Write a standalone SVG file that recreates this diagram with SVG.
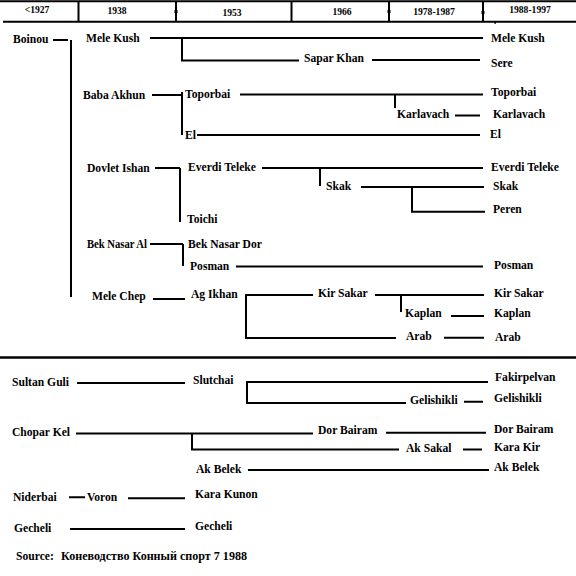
<svg xmlns="http://www.w3.org/2000/svg" width="576" height="576" viewBox="0 0 576 576">
<style>
.t{font-family:"Liberation Serif","Times New Roman",serif;font-weight:bold;font-size:11.6px;fill:#000}
.h{font-family:"Liberation Serif","Times New Roman",serif;font-weight:bold;font-size:9.6px;fill:#000;text-anchor:middle}
.s{font-family:"Liberation Serif","Times New Roman",serif;font-weight:bold;font-size:11.6px;fill:#000}
.c{fill:none;stroke:#000;stroke-width:2}
</style>
<rect width="576" height="576" fill="#fff"/>
<g id="header">
<path class="c" d="M0,1.2H576M3,21.7H576M78.5,1V22M176,1V22M291.5,1V22M389,1V22M483,1V22"/>
<rect x="174.5" y="10" width="3" height="3" fill="#000"/>
<rect x="387.5" y="10" width="3" height="3" fill="#000"/>
<rect x="481.5" y="11" width="3" height="3" fill="#000"/>
<rect x="494.5" y="22" width="1.2" height="2" fill="#000"/>
<text class="h" x="37" y="13">&lt;1927</text>
<text class="h" x="117" y="13.5">1938</text>
<text class="h" x="232" y="15.5">1953</text>
<text class="h" x="342" y="15">1966</text>
<text class="h" x="434" y="15">1978-1987</text>
<text class="h" x="530" y="13.3">1988-1997</text>
</g>
<g id="connectors">
<path class="c" d="M53,40H68M71,40V297"/>
<path class="c" d="M150,38H483M182,38V60.5H299M372,60H480"/>
<path class="c" d="M152,95H183M182,92V135M240,94.5H483M395,94.5V108M455,115.5H480M197,135H480"/>
<path class="c" d="M155,168H180M180,168V222M262,168H483M320,168V186M361,187H484M412,187V211.7H485"/>
<path class="c" d="M150,244H183M183,244V266M236,266.5H483"/>
<path class="c" d="M153,299H185M313,295H246V338H396M375,295H484M401,295V312M451,316H484M444,337.7H484"/>
<path d="M0,357.5H576" fill="none" stroke="#000" stroke-width="2.5"/>
<path class="c" d="M77,383H185M488,382H247V403H406M464,401.7H483"/>
<path class="c" d="M76,433.5H313M192,433.5V449.5H399M386,432.7H486M463,449.5H482M248,470H489"/>
<path class="c" d="M69,497.3H85M128,498.3H185M70,529H185"/>
</g>
<g id="n-boinou"><text class="t" x="13" y="43">Boinou</text></g>
<g id="n-mele-kush"><text class="t" x="86" y="42">Mele Kush</text></g>
<g id="n-sapar-khan"><text class="t" x="304" y="62">Sapar Khan</text></g>
<g id="n-mele-kush-r"><text class="t" x="491" y="42">Mele Kush</text></g>
<g id="n-sere"><text class="t" x="491" y="67">Sere</text></g>
<g id="n-baba-akhun"><text class="t" x="83" y="99">Baba Akhun</text></g>
<g id="n-toporbai"><text class="t" x="185" y="98">Toporbai</text></g>
<g id="n-toporbai-r"><text class="t" x="491" y="96">Toporbai</text></g>
<g id="n-karlavach"><text class="t" x="397" y="118">Karlavach</text></g>
<g id="n-karlavach-r"><text class="t" x="493" y="117.5">Karlavach</text></g>
<g id="n-el"><text class="t" x="185" y="139">El</text></g>
<g id="n-el-r"><text class="t" x="490" y="137.5">El</text></g>
<g id="n-dovlet-ishan"><text class="t" x="87" y="171.5">Dovlet Ishan</text></g>
<g id="n-everdi-teleke"><text class="t" x="188" y="171">Everdi Teleke</text></g>
<g id="n-everdi-teleke-r"><text class="t" x="491" y="171">Everdi Teleke</text></g>
<g id="n-skak"><text class="t" x="326" y="190">Skak</text></g>
<g id="n-skak-r"><text class="t" x="493" y="189.5">Skak</text></g>
<g id="n-peren"><text class="t" x="493" y="213">Peren</text></g>
<g id="n-toichi"><text class="t" x="187" y="223">Toichi</text></g>
<g id="n-bek-nasar-al"><text class="t" x="87" y="248" textLength="60" lengthAdjust="spacingAndGlyphs">Bek Nasar Al</text></g>
<g id="n-bek-nasar-dor"><text class="t" x="188" y="247.5">Bek Nasar Dor</text></g>
<g id="n-posman"><text class="t" x="190" y="270">Posman</text></g>
<g id="n-posman-r"><text class="t" x="494" y="269">Posman</text></g>
<g id="n-mele-chep"><text class="t" x="92" y="300">Mele Chep</text></g>
<g id="n-ag-ikhan"><text class="t" x="191" y="298">Ag Ikhan</text></g>
<g id="n-kir-sakar"><text class="t" x="318" y="297">Kir Sakar</text></g>
<g id="n-kir-sakar-r"><text class="t" x="494" y="297">Kir Sakar</text></g>
<g id="n-kaplan"><text class="t" x="405" y="317">Kaplan</text></g>
<g id="n-kaplan-r"><text class="t" x="494" y="316.7">Kaplan</text></g>
<g id="n-arab"><text class="t" x="406" y="340">Arab</text></g>
<g id="n-arab-r"><text class="t" x="495" y="340.7">Arab</text></g>
<g id="n-sultan-guli"><text class="t" x="12" y="385.7">Sultan Guli</text></g>
<g id="n-slutchai"><text class="t" x="193" y="384">Slutchai</text></g>
<g id="n-fakirpelvan"><text class="t" x="495" y="380.7">Fakirpelvan</text></g>
<g id="n-gelishikli"><text class="t" x="410" y="404">Gelishikli</text></g>
<g id="n-gelishikli-r"><text class="t" x="494" y="402">Gelishikli</text></g>
<g id="n-chopar-kel"><text class="t" x="12" y="435.7">Chopar Kel</text></g>
<g id="n-dor-bairam"><text class="t" x="318" y="434">Dor Bairam</text></g>
<g id="n-dor-bairam-r"><text class="t" x="494" y="433.3">Dor Bairam</text></g>
<g id="n-ak-sakal"><text class="t" x="406" y="452.3">Ak Sakal</text></g>
<g id="n-kara-kir"><text class="t" x="494" y="451.3">Kara Kir</text></g>
<g id="n-ak-belek"><text class="t" x="196" y="473">Ak Belek</text></g>
<g id="n-ak-belek-r"><text class="t" x="494" y="471">Ak Belek</text></g>
<g id="n-niderbai"><text class="t" x="13" y="500.7">Niderbai</text></g>
<g id="n-voron"><text class="t" x="87" y="501">Voron</text></g>
<g id="n-kara-kunon"><text class="t" x="195" y="498.3">Kara Kunon</text></g>
<g id="n-gecheli"><text class="t" x="14" y="531.7">Gecheli</text></g>
<g id="n-gecheli-r"><text class="t" x="195" y="529.7">Gecheli</text></g>
<g id="source"><text class="s" x="16" y="560">Source:</text><text class="s" x="61" y="560" textLength="186" lengthAdjust="spacingAndGlyphs">Коневодство Конный спорт 7 1988</text></g>
</svg>
